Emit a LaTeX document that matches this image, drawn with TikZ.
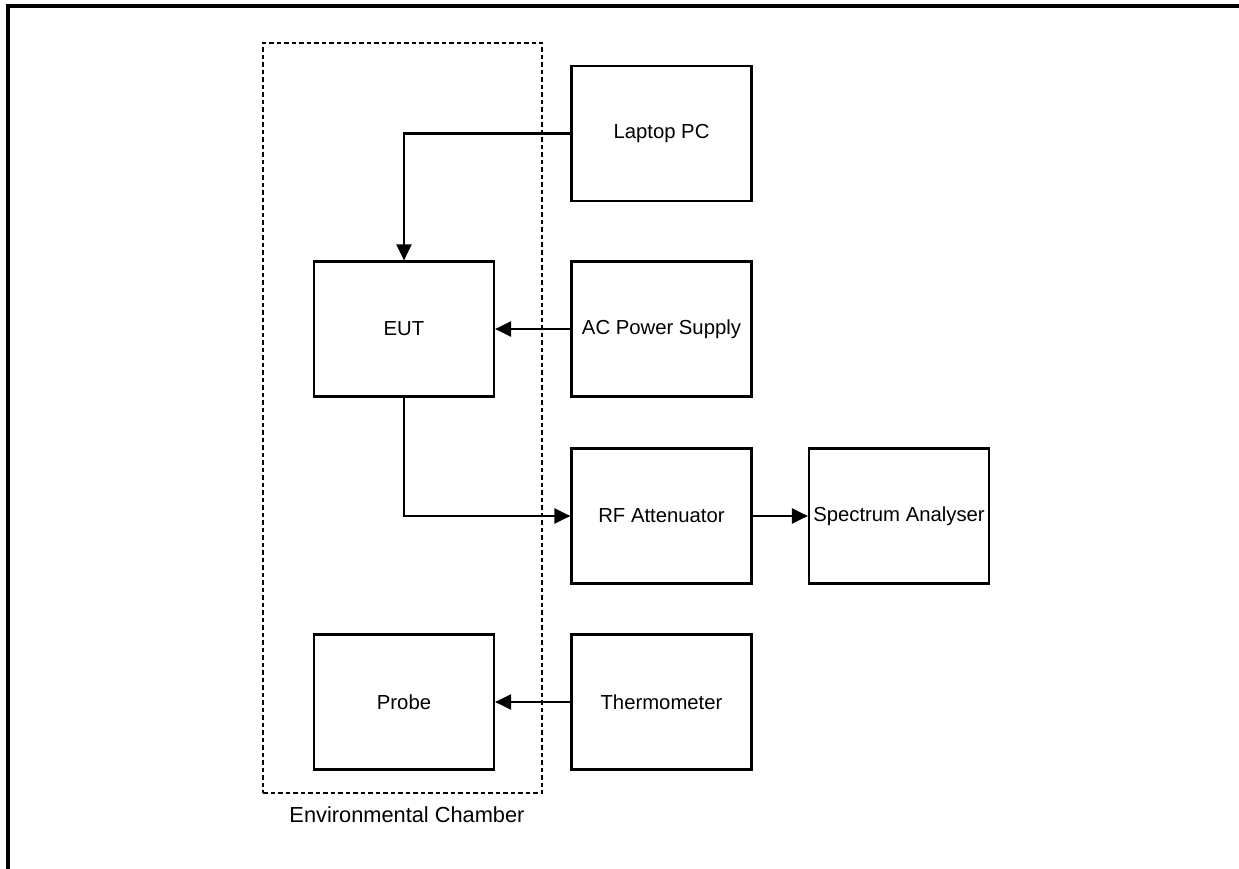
\documentclass[tikz,border=0pt]{standalone}
\usepackage{fontspec}
\setmainfont{Liberation Sans}
\usetikzlibrary{arrows.meta}
\begin{document}
\begin{tikzpicture}[x=1pt,y=-1pt,
  lbl/.style={font=\fontsize{21.8}{26}\selectfont},
  blk/.style={draw,line width=2.2pt,rectangle,minimum width=180pt,minimum height=135pt,inner sep=0pt,font=\fontsize{20.3}{24}\selectfont},
  conn/.style={line width=2.2pt,-{Triangle[length=16pt,width=15pt]}},
  chamberbox/.style={draw,line width=2.8pt,dash pattern=on 4.5pt off 3pt,rectangle,minimum width=279pt,minimum height=750pt,inner sep=0pt}]
\useasboundingbox (0,0) rectangle (1239,869);
\draw[line width=4.5pt] (8,869) -- (8,6) -- (1239,6);
\node[chamberbox] (chamber) at (402.5,418) {};
\node[lbl] (chlabel) at (407,815) {Environmental Chamber};
\node[blk] (laptop) at (661.5,133.5) {Laptop PC};
\node[blk] (eut) at (404,329) {EUT};
\node[blk] (ac) at (661.5,329) {AC Power Supply};
\node[blk] (rf) at (661.5,516) {RF Attenuator};
\node[blk] (sa) at (899,516) {Spectrum Analyser};
\node[blk] (probe) at (404,702) {Probe};
\node[blk] (thermo) at (661.5,702) {Thermometer};
\draw[conn] (laptop.west) -| (eut.north);
\draw[conn] (ac.west) -- (eut.east);
\draw[conn] (eut.south) |- (rf.west);
\draw[conn] (rf.east) -- (sa.west);
\draw[conn] (thermo.west) -- (probe.east);
\end{tikzpicture}
\end{document}
